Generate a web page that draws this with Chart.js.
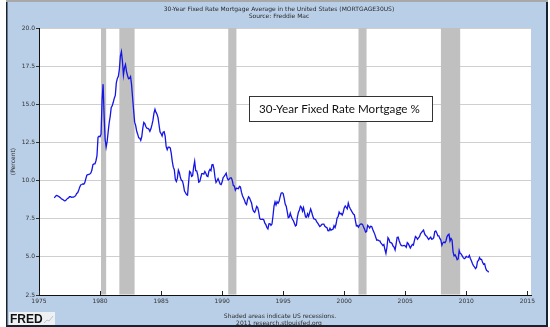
<!DOCTYPE html>
<html>
<head>
<meta charset="utf-8">
<script src="https://cdn.jsdelivr.net/npm/chart.js@4.4.0/dist/chart.umd.min.js"></script>
<style>
  html, body { margin: 0; padding: 0; background: #fff; }
  canvas { display: block; }
</style>
</head>
<body>
<canvas id="chart" width="550" height="327"></canvas>
<script>
// 30-year fixed mortgage rate, monthly averages starting April 1976
const firstYear = 1976
const firstMonth = 3   // 0 = January
const monthlyRate = [
  8.87, 8.95, 9.02, 9.01, 8.97, 8.93, 8.88, 8.81, 8.77,                  // 1976
  8.72, 8.67, 8.69, 8.75, 8.83, 8.86, 8.94, 8.94, 8.90, 8.92, 8.92, 8.96, // 1977
  9.01, 9.15, 9.20, 9.36, 9.57, 9.71, 9.74, 9.78, 9.76, 9.86, 10.11, 10.35,
  10.39, 10.41, 10.43, 10.50, 10.69, 11.04, 11.09, 11.09, 11.30, 11.64, 12.83, 12.90,
  12.88, 13.04, 15.28, 16.32, 14.26, 12.71, 12.19, 12.56, 13.20, 13.79, 14.21, 14.79,
  14.90, 15.13, 15.40, 15.58, 16.40, 16.70, 16.83, 17.29, 18.16, 18.45, 17.83, 16.92,
  17.40, 17.60, 17.16, 16.89, 16.68, 16.70, 16.82, 16.27, 15.43, 14.61, 13.83, 13.62,
  13.25, 13.04, 12.80, 12.78, 12.63, 12.87, 13.42, 13.81, 13.73, 13.54, 13.44, 13.42,
  13.37, 13.23, 13.39, 13.65, 13.94, 14.42, 14.67, 14.47, 14.35, 14.13, 13.64, 13.18,
  13.08, 12.92, 13.17, 13.20, 12.91, 12.22, 12.03, 12.19, 12.19, 12.14, 11.78, 11.26,
  10.88, 10.71, 10.08, 9.94, 10.14, 10.68, 10.51, 10.20, 10.01, 9.98, 9.70, 9.31,
  9.20, 9.08, 9.04, 9.83, 10.60, 10.54, 10.28, 10.33, 10.89, 11.26, 10.65, 10.64,
  10.38, 9.89, 9.93, 10.20, 10.46, 10.46, 10.43, 10.60, 10.48, 10.30, 10.27, 10.61,
  10.73, 10.65, 11.03, 11.05, 10.77, 10.20, 9.88, 9.99, 10.13, 9.95, 9.77, 9.74,
  9.90, 10.20, 10.27, 10.37, 10.48, 10.16, 10.04, 10.10, 10.18, 10.18, 10.01, 9.67,
  9.64, 9.37, 9.50, 9.49, 9.47, 9.62, 9.58, 9.24, 9.01, 8.86, 8.71, 8.50,
  8.43, 8.76, 8.94, 8.85, 8.67, 8.51, 8.13, 7.98, 7.92, 8.09, 8.31, 8.22,
  7.92, 7.50, 7.46, 7.46, 7.47, 7.42, 7.21, 7.11, 6.92, 6.83, 7.16, 7.17,
  7.06, 7.15, 7.68, 8.32, 8.60, 8.40, 8.61, 8.51, 8.64, 8.93, 9.17, 9.20,
  9.15, 8.83, 8.46, 8.32, 7.96, 7.57, 7.61, 7.86, 7.64, 7.48, 7.38, 7.20,
  7.03, 7.08, 7.62, 7.93, 8.07, 8.32, 8.25, 8.00, 8.23, 7.92, 7.62, 7.60,
  7.82, 7.65, 7.90, 8.14, 7.94, 7.69, 7.50, 7.48, 7.43, 7.29, 7.21, 7.10,
  6.99, 7.04, 7.13, 7.14, 7.14, 7.00, 6.95, 6.92, 6.72, 6.71, 6.87, 6.74,
  6.79, 6.81, 7.04, 6.92, 7.15, 7.55, 7.63, 7.94, 7.82, 7.85, 7.74, 7.91,
  8.21, 8.33, 8.24, 8.15, 8.52, 8.29, 8.15, 8.03, 7.91, 7.80, 7.75, 7.38,
  7.03, 7.05, 6.95, 7.08, 7.15, 7.16, 7.13, 6.95, 6.82, 6.62, 6.66, 7.07,
  7.00, 6.89, 7.01, 6.99, 6.81, 6.65, 6.49, 6.29, 6.09, 6.11, 6.07, 6.05,
  5.92, 5.84, 5.75, 5.81, 5.48, 5.23, 5.63, 6.26, 6.15, 5.95, 5.93, 5.88,
  5.71, 5.64, 5.45, 5.83, 6.27, 6.29, 6.06, 5.87, 5.75, 5.72, 5.73, 5.75,
  5.71, 5.63, 5.93, 5.86, 5.72, 5.58, 5.70, 5.82, 5.77, 6.07, 6.33, 6.27,
  6.15, 6.25, 6.32, 6.51, 6.60, 6.68, 6.76, 6.52, 6.40, 6.36, 6.24, 6.14,
  6.22, 6.29, 6.16, 6.18, 6.26, 6.66, 6.70, 6.57, 6.38, 6.38, 6.21, 6.10,
  5.76, 5.92, 5.97, 5.92, 6.04, 6.32, 6.43, 6.48, 6.04, 6.20, 6.09, 5.33,
  5.06, 5.13, 5.00, 4.81, 4.86, 5.42, 5.22, 5.19, 5.06, 4.95, 4.88, 4.93,
  5.03, 4.99, 4.97, 5.10, 4.89, 4.74, 4.56, 4.43, 4.35, 4.23, 4.30, 4.71,
  4.76, 4.95, 4.84, 4.84, 4.64, 4.51, 4.55, 4.27, 4.11, 4.07, 3.99        // 2011
]

// NBER recessions as [start, end] in decimal years
const recessions = [
  [1980.08, 1980.50],
  [1981.58, 1982.83],
  [1990.50, 1991.17],
  [2001.17, 2001.83],
  [2007.92, 2009.50]
]

const yearTicks = [1975, 1980, 1985, 1990, 1995, 2000, 2005, 2010, 2015]
const percentTicks = [2.5, 5.0, 7.5, 10.0, 12.5, 15.0, 17.5, 20.0]

const chartTitle = '30-Year Fixed Rate Mortgage Average in the United States (MORTGAGE30US)'
const chartSource = 'Source: Freddie Mac'
const yAxisTitle = '(Percent)'
const footNote = 'Shaded areas indicate US recessions.'
const footSite = '2011 research.stlouisfed.org'
const boxLabel = '30-Year Fixed Rate Mortgage %'

const points = monthlyRate.map((v, i) => ({ x: firstYear + (firstMonth + i) / 12, y: v }))

const smallFont = '"DejaVu Sans", Verdana, sans-serif'

// frame, panel and plot background
const framePlugin = {
  id: 'frame',
  beforeDraw(chart) {
    const { ctx, chartArea: a } = chart
    ctx.save()
    ctx.fillStyle = '#ffffff'
    ctx.fillRect(0, 0, 550, 327)
    ctx.fillStyle = '#b9cfe8'
    ctx.fillRect(6, 1, 542, 325)
    ctx.fillStyle = '#a8a8a8'
    ctx.fillRect(6, 0, 542, 2)
    ctx.fillStyle = '#18222e'
    ctx.fillRect(6, 2, 1.5, 324)
    ctx.fillRect(546, 2, 2, 324)
    ctx.fillRect(6, 325, 542, 2)
    ctx.fillStyle = '#ffffff'
    ctx.fillRect(a.left, a.top, a.right - a.left, a.bottom - a.top)
    ctx.restore()
  }
}

// recession shading over the gridlines, under the line
const recessionPlugin = {
  id: 'recessions',
  beforeDatasetsDraw(chart) {
    const { ctx, chartArea: a, scales: { x } } = chart
    ctx.save()
    ctx.fillStyle = '#c0c0c0'
    recessions.forEach(([s, e]) => {
      const x0 = x.getPixelForValue(s)
      const x1 = x.getPixelForValue(e)
      ctx.fillRect(x0, a.top, x1 - x0, a.bottom - a.top - 0.5)
    })
    // year tick marks point up into the plot
    ctx.strokeStyle = '#222'
    ctx.lineWidth = 1
    yearTicks.forEach(t => {
      const px = Math.round(x.getPixelForValue(t)) + 0.5
      ctx.beginPath()
      ctx.moveTo(px, a.bottom)
      ctx.lineTo(px, a.bottom - 4)
      ctx.stroke()
    })
    ctx.restore()
  }
}

// titles, footer, logo and the boxed label
const textPlugin = {
  id: 'texts',
  afterDraw(chart) {
    const { ctx, chartArea: a } = chart
    ctx.save()
    ctx.fillStyle = '#2a2a2a'
    ctx.textAlign = 'center'
    ctx.textBaseline = 'middle'
    ctx.font = '6px ' + smallFont
    ctx.fillText(chartTitle, 279, 9)
    ctx.fillText(chartSource, 279, 16.5)
    ctx.fillText(footNote, 280, 316)
    ctx.fillText(footSite, 279, 323)

    ctx.save()
    ctx.translate(13, (a.top + a.bottom) / 2)
    ctx.rotate(-Math.PI / 2)
    ctx.fillText(yAxisTitle, 0, 0)
    ctx.restore()

    // FRED logo
    ctx.fillStyle = '#eef1f4'
    ctx.fillRect(9, 312, 46, 13)
    ctx.fillStyle = '#111'
    ctx.textAlign = 'left'
    ctx.textBaseline = 'alphabetic'
    ctx.font = 'bold 12px "Liberation Sans", Arial, sans-serif'
    ctx.fillText('FRED', 10, 323)
    ctx.strokeStyle = '#b8c4d0'
    ctx.lineWidth = 1
    ctx.beginPath()
    ctx.moveTo(44, 323); ctx.lineTo(47, 320); ctx.lineTo(49, 321); ctx.lineTo(53, 316)
    ctx.stroke()

    // boxed series label
    ctx.fillStyle = '#ffffff'
    ctx.fillRect(249.5, 96.5, 183, 25)
    ctx.strokeStyle = '#333'
    ctx.lineWidth = 1
    ctx.strokeRect(249.5, 96.5, 183, 25)
    ctx.font = '14px Lato, sans-serif'
    const w = ctx.measureText(boxLabel).width
    const size = 14 * 161 / w
    ctx.font = size.toFixed(2) + 'px Lato, sans-serif'
    ctx.fillStyle = '#111'
    ctx.fillText(boxLabel, 259, 113)
    ctx.restore()
  }
}

const chart = new Chart(document.getElementById('chart').getContext('2d'), {
  type: 'line',
  data: {
    datasets: [{
      label: boxLabel,
      data: points,
      borderColor: '#1515e6',
      borderWidth: 1.3,
      pointRadius: 0,
      tension: 0,
      fill: false
    }]
  },
  options: {
    responsive: false,
    animation: false,
    layout: { padding: { left: 5, right: 19, top: 28, bottom: 0 } },
    plugins: {
      legend: { display: false },
      tooltip: { enabled: false }
    },
    scales: {
      x: {
        type: 'linear',
        min: 1975,
        max: 2015.3,
        afterFit: s => { s.height = 32 },
        afterBuildTicks: s => { s.ticks = yearTicks.map(v => ({ value: v })) },
        grid: { display: true, drawOnChartArea: false, drawTicks: false },
        border: { color: '#111', width: 1 },
        ticks: {
          padding: 3,
          maxRotation: 0,
          autoSkip: false,
          color: '#333',
          font: { family: smallFont, size: 6 },
          callback: v => String(v)
        }
      },
      y: {
        min: 2.5,
        max: 20,
        afterFit: s => { s.width = 34 },
        afterBuildTicks: s => { s.ticks = percentTicks.map(v => ({ value: v })) },
        grid: { color: '#cfcfcf', tickLength: 3, tickColor: '#333' },
        border: { color: '#111', width: 1 },
        ticks: {
          padding: 1,
          color: '#333',
          font: { family: smallFont, size: 6 },
          callback: v => v.toFixed(1)
        }
      }
    }
  },
  plugins: [framePlugin, recessionPlugin, textPlugin]
})
</script>
</body>
</html>
